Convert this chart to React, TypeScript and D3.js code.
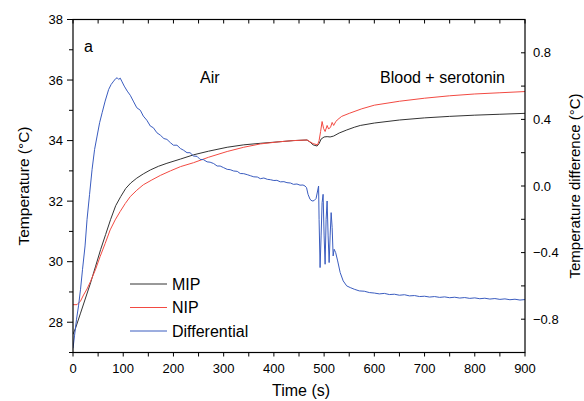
import React from 'react';
import * as d3 from 'd3';

// time (s) / temperature (°C) for the two probes
const mipTime = [0, 5, 15, 25, 35, 45, 55, 65, 75, 85, 95, 105, 115, 127, 140, 154, 170, 187, 214, 240, 270, 307, 340, 373, 410, 439, 466, 472, 478, 486, 490, 494, 500, 506, 512, 519, 530, 545, 560, 572, 600, 650, 700, 750, 800, 850, 900];
const mipTemp = [27.6, 27.8, 28.3, 28.8, 29.3, 29.85, 30.4, 30.9, 31.4, 31.85, 32.15, 32.42, 32.6, 32.76, 32.9, 33.03, 33.15, 33.25, 33.39, 33.53, 33.65, 33.78, 33.86, 33.91, 33.96, 34.0, 34.02, 33.95, 33.86, 33.82, 33.9, 34.05, 34.12, 34.13, 34.12, 34.15, 34.25, 34.35, 34.44, 34.5, 34.58, 34.68, 34.75, 34.8, 34.84, 34.87, 34.9];

const nipTime = [0, 8, 15, 21, 28, 35, 45, 54, 64, 74, 84, 94, 104, 114, 127, 140, 157, 174, 194, 214, 240, 270, 307, 340, 373, 410, 439, 466, 472, 478, 487, 490, 493, 496, 499, 502, 506, 509, 513, 516, 519, 523, 526, 535, 550, 575, 600, 650, 700, 750, 800, 850, 900];
const nipTemp = [28.58, 28.58, 28.7, 28.9, 29.1, 29.35, 29.75, 30.17, 30.6, 31.05, 31.38, 31.66, 31.92, 32.15, 32.36, 32.54, 32.7, 32.85, 33.0, 33.14, 33.27, 33.45, 33.64, 33.78, 33.89, 33.96, 34.0, 34.02, 33.96, 33.9, 33.86, 34.0, 34.3, 34.63, 34.4, 34.3, 34.5, 34.38, 34.45, 34.6, 34.5, 34.62, 34.68, 34.8, 34.9, 35.05, 35.17, 35.3, 35.4, 35.48, 35.54, 35.58, 35.62];

// differential (°C), right axis
const diffTime = [0, 3, 7, 11, 15, 19, 24, 28, 33, 38, 43, 48, 53, 58, 64, 71, 76, 81, 85, 88, 91, 94, 97, 102, 108, 114, 120, 127, 134, 140, 147, 154, 160, 167, 174, 181, 187, 194, 200, 207, 214, 220, 227, 233, 240, 247, 253, 260, 267, 273, 280, 287, 293, 300, 307, 313, 320, 327, 333, 340, 347, 353, 360, 367, 373, 380, 387, 393, 400, 406, 413, 420, 426, 433, 439, 446, 452, 458, 462, 465, 468, 472, 476, 480, 484, 487, 489, 490, 492, 494, 496, 498, 500, 502, 504, 506, 508, 510, 512, 514, 516, 518, 520, 523, 527, 532, 538, 545, 552, 560, 570, 580, 590, 600, 610, 620, 630, 640, 650, 660, 670, 680, 690, 700, 710, 720, 730, 740, 750, 760, 770, 780, 790, 800, 810, 820, 830, 840, 850, 860, 870, 880, 890, 900];
const diffVal = [-0.975, -0.9, -0.8, -0.72, -0.62, -0.5, -0.36, -0.2, -0.05, 0.1, 0.22, 0.3, 0.38, 0.44, 0.51, 0.58, 0.61, 0.63, 0.645, 0.65, 0.64, 0.648, 0.63, 0.6, 0.57, 0.545, 0.51, 0.47, 0.455, 0.42, 0.395, 0.36, 0.35, 0.32, 0.305, 0.285, 0.28, 0.26, 0.245, 0.245, 0.225, 0.215, 0.2, 0.2, 0.18, 0.178, 0.16, 0.158, 0.145, 0.143, 0.135, 0.12, 0.12, 0.11, 0.1, 0.098, 0.09, 0.088, 0.075, 0.074, 0.068, 0.062, 0.055, 0.054, 0.044, 0.048, 0.04, 0.038, 0.033, 0.034, 0.025, 0.026, 0.02, 0.018, 0.01, 0.012, 0.005, 0.006, 0.0, -0.01, -0.05, -0.08, -0.09, -0.088, -0.075, -0.03, 0.0, -0.2, -0.49, -0.3, -0.1, -0.05, -0.3, -0.47, -0.2, -0.09, -0.3, -0.46, -0.3, -0.16, -0.25, -0.42, -0.38, -0.4, -0.45, -0.52, -0.57, -0.6, -0.61, -0.62, -0.63, -0.632, -0.64, -0.643, -0.648, -0.645, -0.652, -0.65, -0.656, -0.653, -0.66, -0.658, -0.664, -0.662, -0.667, -0.664, -0.669, -0.666, -0.671, -0.668, -0.673, -0.67, -0.675, -0.672, -0.677, -0.674, -0.679, -0.676, -0.681, -0.678, -0.683, -0.68, -0.685, -0.682];

const timeTicks = [0, 100, 200, 300, 400, 500, 600, 700, 800, 900];
const tempTicks = [28, 30, 32, 34, 36, 38];
const diffTicks = [-0.8, -0.4, 0.0, 0.4, 0.8];

const seriesNames = ['MIP', 'NIP', 'Differential'];
const seriesColors = ['#333333', '#f24a42', '#3a5cbf'];

const W = 584;
const H = 401;
const m = { left: 73, right: 525, top: 19.5, bottom: 352.5 };
const font = '"Liberation Sans", Arial, sans-serif';

export default function App() {
  const x = d3.scaleLinear().domain([0, 900]).range([m.left, m.right]);
  const yL = d3.scaleLinear().domain([27, 38]).range([m.bottom, m.top]);
  const yR = d3.scaleLinear().domain([-1, 1]).range([m.bottom, m.top]);

  const lineL = d3.line<[number, number]>().x(d => x(d[0])).y(d => yL(d[1]));
  const lineR = d3.line<[number, number]>().x(d => x(d[0])).y(d => yR(d[1]));

  const mip = mipTime.map((t, i) => [t, mipTemp[i]] as [number, number]);
  const nip = nipTime.map((t, i) => [t, nipTemp[i]] as [number, number]);
  const diff = diffTime.map((t, i) => [t, diffVal[i]] as [number, number]);

  const minorTime = d3.range(0, 901, 50);
  const minorTemp = d3.range(27, 38.01, 1);
  const minorDiff = d3.range(-1, 1.01, 0.2);

  return (
    <svg width={W} height={H} style={{ position: 'absolute', left: 0, top: 0 }} fontFamily={font}>
      <rect width={W} height={H} fill="#fff" />
      <defs>
        <clipPath id="plot">
          <rect x={m.left} y={m.top} width={m.right - m.left} height={m.bottom - m.top} />
        </clipPath>
      </defs>

      <g clipPath="url(#plot)" fill="none" strokeWidth={1}>
        <path d={lineL(mip) || ''} stroke={seriesColors[0]} />
        <path d={lineL(nip) || ''} stroke={seriesColors[1]} />
        <path d={lineR(diff) || ''} stroke={seriesColors[2]} />
      </g>

      {/* frame */}
      <rect x={m.left} y={m.top} width={m.right - m.left} height={m.bottom - m.top} fill="none" stroke="#000" strokeWidth={1.2} />

      {/* bottom / top ticks */}
      {minorTime.map(t => (
        <g key={'t' + t} stroke="#000" strokeWidth={1}>
          <line x1={x(t)} x2={x(t)} y1={m.bottom} y2={m.bottom + 4} />
          <line x1={x(t)} x2={x(t)} y1={m.top} y2={m.top + 4} />
        </g>
      ))}
      {timeTicks.map(t => (
        <text key={'tl' + t} x={x(t)} y={m.bottom + 20} fontSize={13} textAnchor="middle">{t}</text>
      ))}

      {/* left axis */}
      {minorTemp.map(v => (
        <line key={'l' + v} x1={m.left - (v % 2 === 0 ? 6 : 4)} x2={m.left} y1={yL(v)} y2={yL(v)} stroke="#000" />
      ))}
      {tempTicks.map(v => (
        <text key={'ll' + v} x={m.left - 10} y={yL(v) + 4.5} fontSize={13} textAnchor="end">{v}</text>
      ))}

      {/* right axis */}
      {minorDiff.map(v => (
        <line key={'r' + v} x1={m.right - 4} x2={m.right} y1={yR(v)} y2={yR(v)} stroke="#000" />
      ))}
      {diffTicks.map(v => (
        <text key={'rl' + v} x={m.right + 8} y={yR(v) + 4.5} fontSize={13}>{d3.format('.1f')(v)}</text>
      ))}

      {/* axis titles */}
      <text x={301} y={396} fontSize={16} textAnchor="middle">Time (s)</text>
      <text transform={`translate(29,186) rotate(-90)`} fontSize={15.5} textAnchor="middle">Temperature (°C)</text>
      <text transform={`translate(580,186) rotate(-90)`} fontSize={15} textAnchor="middle">Temperature difference (°C)</text>

      {/* annotations */}
      <text x={84} y={52} fontSize={16}>a</text>
      <text x={200} y={83} fontSize={16}>Air</text>
      <text x={380} y={83} fontSize={16}>Blood + serotonin</text>

      {/* legend */}
      {seriesNames.map((name, i) => (
        <g key={name} transform={`translate(130,${284 + i * 23.5})`}>
          <line x1={0} x2={37} y1={0} y2={0} stroke={seriesColors[i]} strokeWidth={1} />
          <text x={42} y={5.5} fontSize={16}>{name}</text>
        </g>
      ))}
    </svg>
  );
}
